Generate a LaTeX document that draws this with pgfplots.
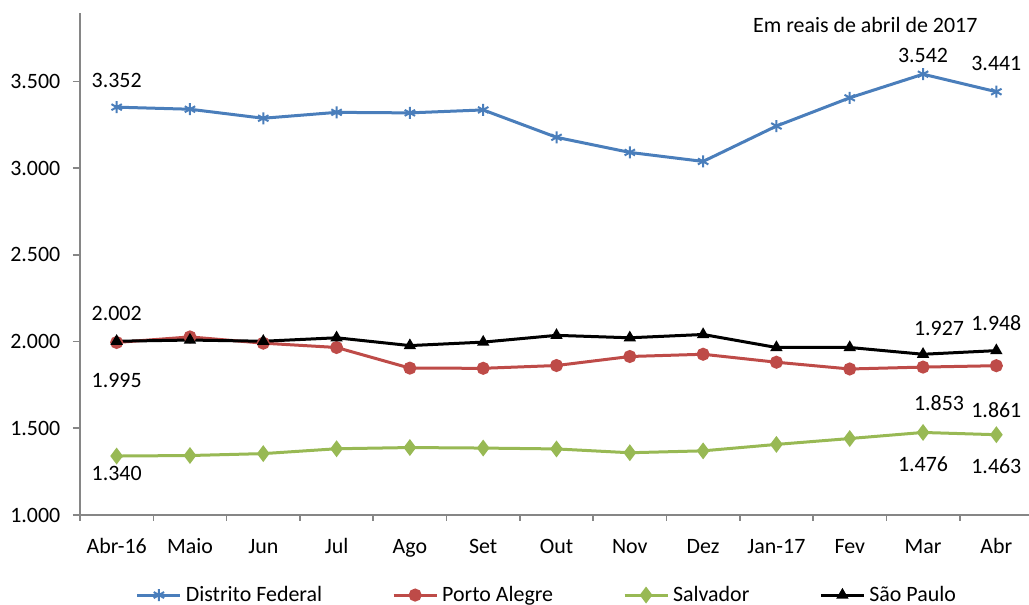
\documentclass[border=0pt]{standalone}
\usepackage{fontspec}
\setmainfont{Carlito}
\usepackage{pgfplots}
\pgfplotsset{compat=1.18}
\definecolor{dfblue}{HTML}{4A7EBB}
\definecolor{pared}{HTML}{BE4B48}
\definecolor{ssgreen}{HTML}{98B954}
\definecolor{axgray}{HTML}{868686}
\newcommand\chartfont{\fontsize{11}{13}\selectfont}

\begin{document}
\chartfont
\begin{tikzpicture}
\useasboundingbox (0,0) rectangle (514.5bp,302.5bp);
\begin{axis}[
  at={(40bp,45bp)}, anchor=south west, scale only axis,
  width=476.5bp, height=251bp,
  xmin=-0.5, xmax=12.5, ymin=1000, ymax=3895,
  axis x line=bottom, axis y line=left,
  axis line style={-, axgray, line width=0.8bp},
  tick style={axgray, line width=0.8bp},
  tick align=outside,
  xtick={0,...,12},
  xticklabels={Abr-16,Maio,Jun,Jul,Ago,Set,Out,Nov,Dez,Jan-17,Fev,Mar,Abr},
  minor xtick={-0.5,0.5,...,12.5},
  major x tick style={draw=none},
  minor tick length=3bp,
  ytick={1000,1500,...,3500},
  major tick length=3.5bp,
  scaled y ticks=false,
  yticklabel={\pgfmathprintnumber[fixed,precision=0,1000 sep={.}]{\tick}},
  /pgf/number format/assume math mode=true,
  ticklabel style={font=\chartfont, text=black},
  xticklabel style={anchor=base, yshift=-15.5bp},
  yticklabel style={xshift=-2.5bp},
  every axis plot/.append style={line width=1.5bp},
  legend columns=4,
  legend style={at={(0.491,-0.1595)}, anchor=center, draw=none,
    font=\chartfont,
    /tikz/every even column/.append style={column sep=33bp}},
  legend image code/.code={
    \draw[mark repeat=2,mark phase=2] plot coordinates {(0bp,0bp) (10.75bp,0bp) (21.5bp,0bp)};},
  clip=false,
]
% Distrito Federal
\addplot[dfblue, mark=asterisk, mark size=3bp, mark options={line width=1bp}] coordinates {
 (0,3352) (1,3340) (2,3288) (3,3322) (4,3319) (5,3336) (6,3178)
 (7,3091) (8,3039) (9,3243) (10,3406) (11,3542) (12,3441)};
\addlegendentry{Distrito Federal}
% Porto Alegre
\addplot[pared, mark=*, mark size=2.5bp] coordinates {
 (0,1995) (1,2027) (2,1991) (3,1966) (4,1847) (5,1846) (6,1862)
 (7,1914) (8,1927) (9,1881) (10,1842) (11,1853) (12,1861)};
\addlegendentry{Porto Alegre}
% Salvador
\addplot[ssgreen, mark=diamond*, mark size=3bp] coordinates {
 (0,1340) (1,1343) (2,1354) (3,1382) (4,1389) (5,1386) (6,1381)
 (7,1359) (8,1370) (9,1407) (10,1441) (11,1476) (12,1463)};
\addlegendentry{Salvador}
% São Paulo
\addplot[black, mark=triangle*, mark size=2.1bp] coordinates {
 (0,2002) (1,2009) (2,2002) (3,2022) (4,1977) (5,1997) (6,2036)
 (7,2022) (8,2041) (9,1966) (10,1966) (11,1927) (12,1948)};
\addlegendentry{São Paulo}

% value labels
\begin{scope}[every node/.style={inner sep=0pt, anchor=center}]
\node[yshift=13.5bp] at (axis cs:0,3352) {3.352};
\node[yshift=9.25bp] at (axis cs:11,3542) {3.542};
\node[yshift=13.9bp] at (axis cs:12,3441) {3.441};
\node[yshift=14bp] at (axis cs:0,2002) {2.002};
\node[yshift=-19.25bp] at (axis cs:0,1995) {1.995};
\node[yshift=-8.5bp] at (axis cs:0,1340) {1.340};
\node[yshift=13bp, xshift=8bp] at (axis cs:11,1927) {1.927};
\node[yshift=14bp] at (axis cs:12,1948) {1.948};
\node[yshift=-18bp, xshift=8bp] at (axis cs:11,1853) {1.853};
\node[yshift=-22bp] at (axis cs:12,1861) {1.861};
\node[yshift=-15.75bp] at (axis cs:11,1476) {1.476};
\node[yshift=-15.5bp] at (axis cs:12,1463) {1.463};
\node[yshift=-6bp] at (rel axis cs:0.824,1) {Em reais de abril de 2017};
\end{scope}
\end{axis}
\end{tikzpicture}
\end{document}
